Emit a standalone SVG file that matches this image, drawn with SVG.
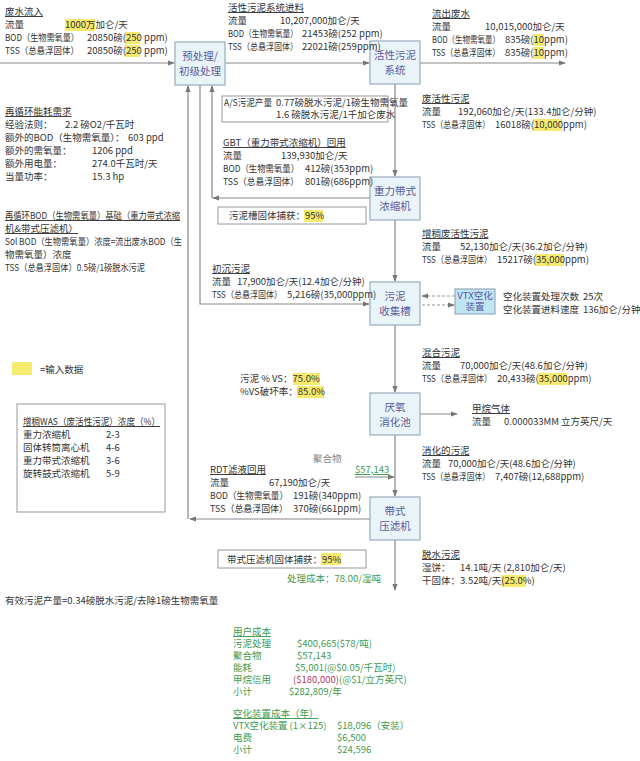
<svg xmlns="http://www.w3.org/2000/svg" width="640" height="761" viewBox="0 0 640 761">
<defs>
<marker id="ar" viewBox="0 0 8 8" refX="7" refY="4" markerWidth="6" markerHeight="6" orient="auto"><path d="M0,1 L8,4 L0,7 z" fill="#777"/></marker>
<style>
text{font-family:"Noto Sans CJK SC","Liberation Sans",sans-serif;font-size:9.5px;fill:#333}
.u{text-decoration:underline}
.node rect{fill:#e8f4f7;stroke:#9ab;stroke-width:1.2}
.node text{fill:#5a5aa0;font-size:10.5px;text-anchor:middle}
.ln{stroke:#888;stroke-width:1.2;fill:none}
.dash{stroke:#999;stroke-width:1.2;stroke-dasharray:3,2;fill:none}
.hl{fill:#f6ea6e}
.bx{fill:none;stroke:#999;stroke-width:1}
.g{fill:#3f9a4f}
.c{font-size:9.5px;fill:#3f9a4f}
</style>
</defs>
<rect width="640" height="761" fill="#fff"/>
<g id="connectors">
<path class="ln" d="M0,63 H174" marker-end="url(#ar)"/>
<path class="ln" d="M225,63 H369" marker-end="url(#ar)"/>
<path class="ln" d="M420,63 H565" marker-end="url(#ar)"/>
<path class="ln" d="M395,84 V176" marker-end="url(#ar)"/>
<path class="ln" d="M395,220 V281" marker-end="url(#ar)"/>
<path class="ln" d="M395,325 V392" marker-end="url(#ar)"/>
<path class="ln" d="M395,435 V496" marker-end="url(#ar)"/>
<path class="ln" d="M395,540 V590" marker-end="url(#ar)"/>
<path class="ln" d="M420,414 H457" marker-end="url(#ar)"/>
<path class="ln" d="M200,85 V304 H369" marker-end="url(#ar)"/>
<path class="ln" d="M370,198 H213" marker-end="url(#ar)"/>
<path class="ln" d="M212,198 V86" marker-end="url(#ar)"/>
<path class="ln" d="M370,519 H190" marker-end="url(#ar)"/>
<path class="ln" d="M188,519 V86" marker-end="url(#ar)"/>
<path class="dash" d="M455,296 H422" marker-end="url(#ar)"/>
<path class="dash" d="M422,305 H454" marker-end="url(#ar)"/>
<path class="ln" d="M355,477 H394" marker-end="url(#ar)"/>
</g>
<g id="n1" class="node"><rect x="175" y="42" width="50" height="43"/><text x="200" y="60">预处理/</text><text x="200" y="75">初级处理</text></g>
<g id="n2" class="node"><rect x="370" y="41" width="50" height="43"/><text x="395" y="59">活性污泥</text><text x="395" y="74">系统</text></g>
<g id="n3" class="node"><rect x="370" y="177" width="50" height="43"/><text x="395" y="195">重力带式</text><text x="395" y="210">浓缩机</text></g>
<g id="n4" class="node"><rect x="370" y="282" width="50" height="43"/><text x="395" y="300">污泥</text><text x="395" y="315">收集槽</text></g>
<g id="n5" class="node"><rect x="370" y="393" width="50" height="42"/><text x="395" y="411">厌氧</text><text x="395" y="426">消化池</text></g>
<g id="n6" class="node"><rect x="370" y="497" width="50" height="43"/><text x="395" y="515">带式</text><text x="395" y="530">压滤机</text></g>
<g id="n7" class="node"><rect x="455" y="289" width="40" height="25" style="fill:#bfe5f5"/><text x="475" y="299" style="font-size:9.5px">VTX空化</text><text x="475" y="310" style="font-size:9.5px">装置</text></g>
<g id="boxes">
<rect class="bx" x="222" y="96" width="166" height="26"/>
<rect class="bx" x="218" y="207" width="148" height="17"/>
<rect class="bx" x="17" y="404" width="148" height="108"/>
<rect class="bx" x="218" y="550" width="148" height="18"/>
<rect class="hl" x="65" y="19" width="30" height="12"/>
<rect class="hl" x="125" y="32" width="15" height="12"/>
<rect class="hl" x="125" y="45" width="15" height="12"/>
<rect class="hl" x="533" y="34" width="11" height="12"/>
<rect class="hl" x="533" y="47" width="11" height="12"/>
<rect class="hl" x="533" y="119" width="29" height="12"/>
<rect class="hl" x="304" y="210" width="19" height="12"/>
<rect class="hl" x="535" y="254" width="29" height="12"/>
<rect class="hl" x="538" y="373" width="29" height="12"/>
<rect class="hl" x="293" y="373" width="27" height="12"/>
<rect class="hl" x="297" y="386" width="27" height="12"/>
<rect class="hl" x="321" y="553" width="20" height="12"/>
<rect class="hl" x="501" y="575" width="25" height="12"/>
<rect class="hl" x="12" y="362" width="20" height="13"/>
</g>
<g id="texts">
<text x="5" y="15" class="u">废水流入</text>
<text x="5" y="28">流量</text><text x="65" y="28">1000万加仑/天</text>
<text x="5" y="41" textLength="74" lengthAdjust="spacingAndGlyphs">BOD（生物需氧量）</text><text x="87" y="41">20850磅(250 ppm)</text>
<text x="5" y="54" textLength="74" lengthAdjust="spacingAndGlyphs">TSS（总悬浮固体）</text><text x="87" y="54">20850磅(250 ppm)</text>
<text x="228" y="11" class="u">活性污泥系统进料</text>
<text x="228" y="24">流量</text><text x="280" y="24">10,207,000加仑/天</text>
<text x="228" y="37" textLength="70" lengthAdjust="spacingAndGlyphs">BOD（生物需氧量）</text><text x="302" y="37">21453磅(252 ppm)</text>
<text x="228" y="50" textLength="70" lengthAdjust="spacingAndGlyphs">TSS（总悬浮固体）</text><text x="302" y="50">22021磅(259ppm)</text>
<text x="432" y="17" class="u">流出废水</text>
<text x="432" y="30">流量</text><text x="485" y="30">10,015,000加仑/天</text>
<text x="432" y="43" textLength="68" lengthAdjust="spacingAndGlyphs">BOD（生物需氧量）</text><text x="505" y="43">835磅(10ppm)</text>
<text x="432" y="56" textLength="68" lengthAdjust="spacingAndGlyphs">TSS（总悬浮固体）</text><text x="505" y="56">835磅(10ppm)</text>
<text x="422" y="102" class="u">废活性污泥</text>
<text x="422" y="115">流量</text><text x="458" y="115">192,060加仑/天(133.4加仑/分钟)</text>
<text x="422" y="128" textLength="68" lengthAdjust="spacingAndGlyphs">TSS（总悬浮固体）</text><text x="495" y="128">16018磅(10,000ppm)</text>
<text x="5" y="115" class="u">再循环能耗需求</text>
<text x="5" y="128">经验法则：</text><text x="65" y="128">2.2 磅O2/千瓦时</text>
<text x="5" y="141">额外的BOD（生物需氧量）：</text><text x="128" y="141">603 ppd</text>
<text x="5" y="154">额外的需氧量：</text><text x="92" y="154">1206 ppd</text>
<text x="5" y="167">额外用电量：</text><text x="92" y="167">274.0千瓦时/天</text>
<text x="5" y="180">当量功率：</text><text x="92" y="180">15.3 hp</text>
<text x="224" y="106" textLength="48" lengthAdjust="spacingAndGlyphs">A/S污泥产量</text><text x="276" y="106">0.77磅脱水污泥/1磅生物需氧量</text>
<text x="276" y="118">1.6 磅脱水污泥/1千加仑废水</text>
<text x="223" y="146" class="u">GBT（重力带式浓缩机）回用</text>
<text x="223" y="159">流量</text><text x="281" y="159">139,930加仑/天</text>
<text x="223" y="172" textLength="76" lengthAdjust="spacingAndGlyphs">BOD（生物需氧量）</text><text x="305" y="172">412磅(353ppm)</text>
<text x="223" y="185" textLength="76" lengthAdjust="spacingAndGlyphs">TSS（总悬浮固体）</text><text x="305" y="185">801磅(686ppm)</text>
<text x="229" y="219">污泥槽固体捕获：95%</text>
<text x="5" y="219" class="u" textLength="175" lengthAdjust="spacingAndGlyphs">再循环BOD（生物需氧量）基础（重力带式浓缩</text>
<text x="5" y="232" class="u">机&amp;带式压滤机）</text>
<text x="5" y="245" textLength="177" lengthAdjust="spacingAndGlyphs">Sol BOD（生物需氧量）浓度=流出废水BOD（生</text>
<text x="5" y="258">物需氧量）浓度</text>
<text x="5" y="271" textLength="140" lengthAdjust="spacingAndGlyphs">TSS（总悬浮固体）0.5磅/1磅脱水污泥</text>
<text x="422" y="237" class="u">增稠废活性污泥</text>
<text x="422" y="250">流量</text><text x="460" y="250">52,130加仑/天(36.2加仑/分钟)</text>
<text x="422" y="263" textLength="70" lengthAdjust="spacingAndGlyphs">TSS（总悬浮固体）</text><text x="497" y="263">15217磅(35,000ppm)</text>
<text x="212" y="272" class="u">初沉污泥</text>
<text x="212" y="285">流量</text><text x="237" y="285">17,900加仑/天(12.4加仑/分钟)</text>
<text x="212" y="298" textLength="70" lengthAdjust="spacingAndGlyphs">TSS（总悬浮固体）</text><text x="287" y="298">5,216磅(35,000ppm)</text>
<text x="503" y="300">空化装置处理次数</text><text x="583" y="300">25次</text>
<text x="503" y="313">空化装置进料速度</text><text x="583" y="313">136加仑/分钟</text>
<text x="40" y="373">=输入数据</text>
<text x="422" y="356" class="u">混合污泥</text>
<text x="422" y="369">流量</text><text x="460" y="369">70,000加仑/天(48.6加仑/分钟)</text>
<text x="422" y="382" textLength="70" lengthAdjust="spacingAndGlyphs">TSS（总悬浮固体）</text><text x="497" y="382">20,433磅(35,000ppm)</text>
<text x="240" y="382">污泥 % VS：75.0%</text>
<text x="240" y="395">%VS破坏率：85.0%</text>
<text x="23" y="425" class="u" textLength="137" lengthAdjust="spacingAndGlyphs">增稠WAS（废活性污泥）浓度（%）</text>
<text x="23" y="438">重力浓缩机</text><text x="106" y="438">2-3</text>
<text x="23" y="451">固体转筒离心机</text><text x="106" y="451">4-6</text>
<text x="23" y="464">重力带式浓缩机</text><text x="106" y="464">3-6</text>
<text x="23" y="477">旋转鼓式浓缩机</text><text x="106" y="477">5-9</text>
<text x="472" y="412" class="u">甲烷气体</text>
<text x="472" y="425">流量</text><text x="504" y="425">0.000033MM 立方英尺/天</text>
<text x="422" y="454" class="u">消化的污泥</text>
<text x="422" y="467">流量</text><text x="448" y="467">70,000加仑/天(48.6加仑/分钟)</text>
<text x="422" y="480" textLength="68" lengthAdjust="spacingAndGlyphs">TSS（总悬浮固体）</text><text x="495" y="480">7,407磅(12,688ppm)</text>
<text x="313" y="462" style="fill:#888">聚合物</text>
<text x="355" y="473" class="g u">$57,143</text>
<text x="210" y="473" class="u">RDT滤液回用</text>
<text x="210" y="486">流量</text><text x="269" y="486">67,190加仑/天</text>
<text x="210" y="499" textLength="78" lengthAdjust="spacingAndGlyphs">BOD（生物需氧量）</text><text x="293" y="499">191磅(340ppm)</text>
<text x="210" y="512" textLength="78" lengthAdjust="spacingAndGlyphs">TSS（总悬浮固体）</text><text x="293" y="512">370磅(661ppm)</text>
<text x="227" y="563">带式压滤机固体捕获：95%</text>
<text x="287" y="582" class="g">处理成本：78.00/湿吨</text>
<text x="422" y="558" class="u">脱水污泥</text>
<text x="422" y="571">湿饼：</text><text x="460" y="571">14.1吨/天 (2,810加仑/天)</text>
<text x="422" y="584">干固体：</text><text x="460" y="584">3.52吨/天(25.0%)</text>
<text x="5" y="604">有效污泥产量=0.34磅脱水污泥/去除1磅生物需氧量</text>
</g>
<g id="costs">
<text x="233" y="635" class="c u">用户成本</text>
<text x="233" y="647" class="c">污泥处理</text><text x="297" y="647" class="c">$400,665($78/吨)</text>
<text x="233" y="659" class="c">聚合物</text><text x="297" y="659" class="c">$57,143</text>
<text x="233" y="671" class="c">能耗</text><text x="295" y="671" class="c">$5,001(@$0.05/千瓦时)</text>
<text x="233" y="683" class="c">甲烷信用</text><text x="293" y="683" class="c"><tspan style="fill:#b03a60">($180,000)</tspan>(@$1/立方英尺)</text>
<text x="233" y="695" class="c">小计</text><text x="289" y="695" class="c">$282,809/年</text>
<text x="233" y="717" class="c u">空化装置成本（年）</text>
<text x="233" y="729" class="c">VTX空化装置 (1×125)</text><text x="337" y="729" class="c">$18,096（安装）</text>
<text x="233" y="741" class="c">电费</text><text x="337" y="741" class="c">$6,500</text>
<text x="233" y="753" class="c">小计</text><text x="337" y="753" class="c">$24,596</text>
</g>
</svg>
